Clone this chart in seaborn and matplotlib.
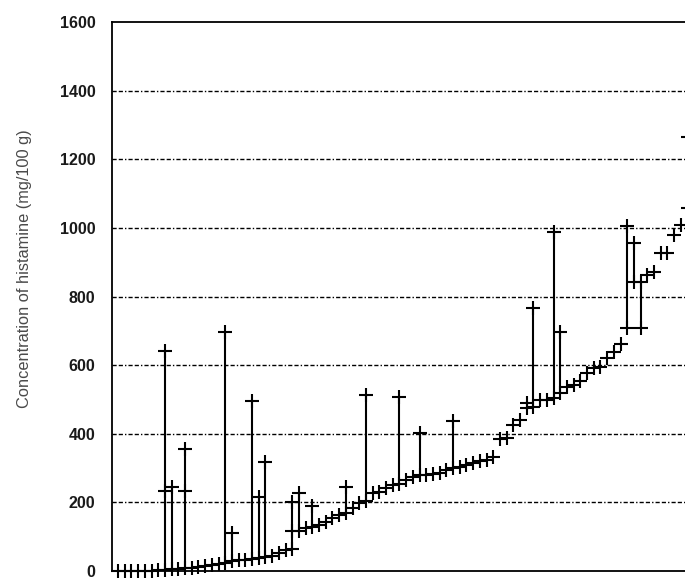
import numpy as np
import pandas as pd
import seaborn as sns
import matplotlib.pyplot as plt

# lowest value of each sample (samples ordered left to right)
low_vals = [0, 0, 0, 0, 0, 0, 2, 3, 5, 6,
            8, 10, 12, 14, 17, 20, 24, 28, 31, 33,
            35, 38, 40, 43, 52, 60, 64, 117, 125, 129,
            134, 144, 154, 163, 170, 184, 198, 205, 227, 231,
            241, 250, 255, 265, 275, 280, 280, 282, 285, 294,
            300, 304, 309, 316, 320, 325, 332, 385, 388, 425,
            440, 475, 479, 499, 499, 505, 519, 537, 542, 555,
            577, 592, 596, 620, 639, 662, 709, 843, 709, 863,
            872, 926, 926, 980, 1009, 1058]

# highest value for samples that show a spread
high_idx = [7, 8, 10, 16, 17, 20, 21, 22, 26, 27, 29, 34, 37, 42, 45, 50,
            62, 65, 66, 76, 77, 78, 85]
high_vals = [640, 246, 355, 698, 110, 497, 217, 318, 202, 228, 190, 246, 513,
             508, 403, 438, 766, 989, 698, 1006, 957, 843, 1266]

# intermediate values
mid_idx = [7, 10, 26, 61]
mid_vals = [234, 234, 117, 490]

yticks = [0, 200, 400, 600, 800, 1000, 1200, 1400, 1600]

sample = np.arange(len(low_vals))
pts = pd.DataFrame({
    'sample': np.concatenate([sample, high_idx, mid_idx]),
    'value': np.concatenate([low_vals, high_vals, mid_vals]),
})

sns.set_style('white')
plt.rcParams['font.family'] = ['Liberation Sans', 'DejaVu Sans']

fig = plt.figure(figsize=(6.85, 5.79), dpi=100)
ax = fig.add_axes([0.1635, 0.0138, 0.938, 0.948])

# spread of each sample
lows_for_high = [low_vals[i] for i in high_idx]
ax.vlines(high_idx, lows_for_high, high_vals, color='black', lw=1.5, zorder=3)

sns.scatterplot(data=pts, x='sample', y='value', marker='+', s=90,
                color='black', linewidth=1.5, ax=ax, zorder=4, clip_on=False)

ax.set_xlim(-0.9, 95)
ax.set_ylim(0, 1600)
ax.set_yticks(yticks)
ax.set_yticklabels([str(t) for t in yticks], fontsize=11.5, fontweight='bold',
                   color='#1a1a1a')
ax.set_xticks([])
ax.tick_params(axis='y', length=0, pad=12)

for t in yticks[1:-1]:
    ax.axhline(t, color='black', lw=1.0, ls=(0, (3, 1.5, 3, 1.5, 1, 1.5)),
               zorder=1)

for side in ['left', 'top', 'bottom']:
    ax.spines[side].set_color('black')
    ax.spines[side].set_linewidth(1.3)
ax.spines['right'].set_visible(False)

ax.set_xlabel('')
ax.set_ylabel('Concentration of histamine (mg/100 g)', fontsize=11.8,
              color='#4a4a4a')
ax.yaxis.set_label_coords(-0.125, 0.55)

fig.savefig('out.png', dpi=100)
